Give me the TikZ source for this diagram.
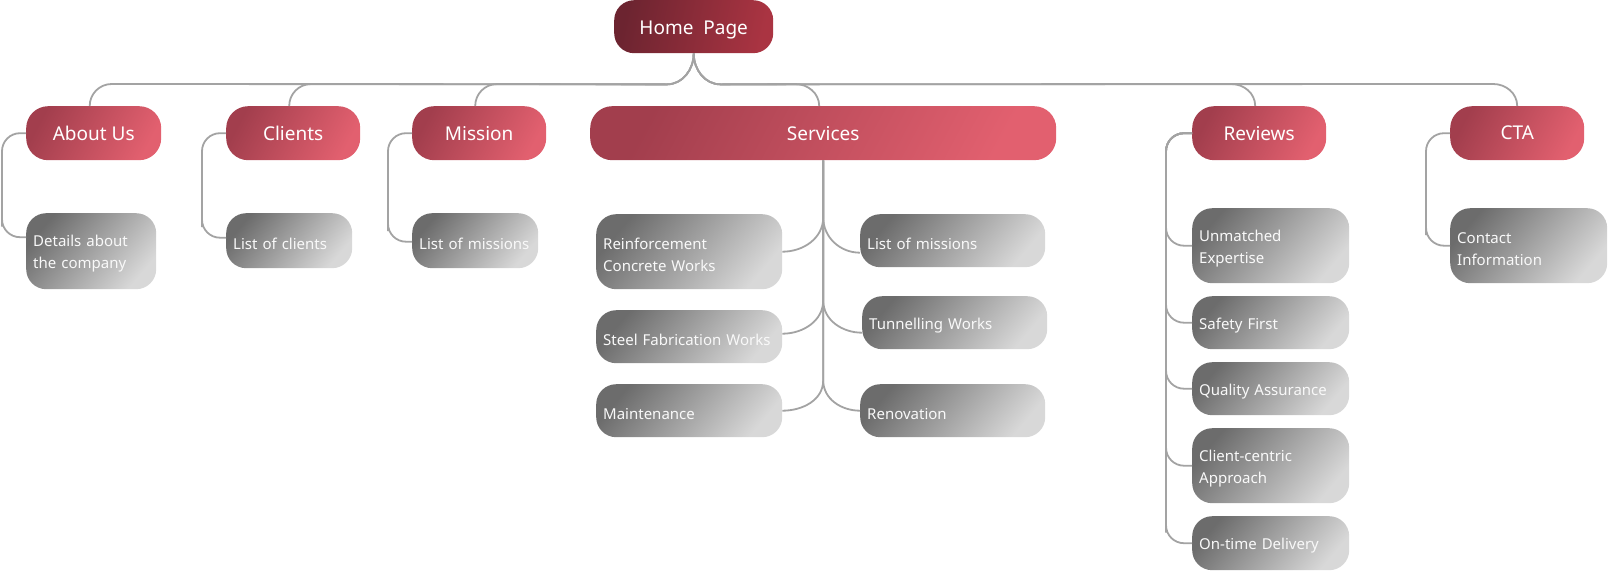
\documentclass[tikz,border=0pt]{standalone}
\usepackage{fontspec}
\setmainfont{Noto Sans}
\usetikzlibrary{calc}
\definecolor{redA}{HTML}{A23E4D}
\definecolor{redB}{HTML}{E2606F}
\definecolor{homeA}{HTML}{6C2430}
\definecolor{homeB}{HTML}{AA3442}
\definecolor{grayA}{HTML}{6C6C6C}
\definecolor{grayB}{HTML}{D8D8D8}
\definecolor{linegray}{HTML}{A3A3A3}
\tikzset{
  conn/.style={draw=linegray, line width=1.8pt},
  box/.style={inner sep=0pt, anchor=north west, shading=axis},
  topbox/.style={box, rounded corners=22pt, text=white,
    font=\fontsize{19}{22}\selectfont,
    top color=redA, bottom color=redB, shading angle=62, minimum height=54pt},
  homebox/.style={box, rounded corners=20pt, text=white,
    font=\fontsize{19}{22}\selectfont, text height=16pt, text depth=0pt,
    top color=homeA, bottom color=homeB, shading angle=78, minimum height=53pt},
  graybox/.style={box, rounded corners=20pt, text=white!95!gray,
    font=\fontsize{15}{22}\selectfont, align=left, inner xsep=7pt,
    execute at begin node={\rule{0pt}{17pt}},
    top color=grayA, bottom color=grayB, shading angle=50},
}
\begin{document}
\begin{tikzpicture}[x=1pt, y=-1pt]
\useasboundingbox (0,0) rectangle (1608,570);

% top level
\node[homebox, minimum width=159pt] (home) at (614,0) {Home\ \ Page};
\node[topbox, minimum width=135pt] (about) at (26,106) {About Us};
\node[topbox, minimum width=134pt] (clients) at (226,106) {Clients};
\node[topbox, minimum width=134pt] (mission) at (412,106) {Mission};
\node[topbox, minimum width=466pt] (services) at (590,106) {Services};
\node[topbox, minimum width=134pt] (reviews) at (1192,106) {Reviews};
\node[topbox, minimum width=134pt] (cta) at (1450,106) {CTA};

% children
\node[graybox, text width=116pt, minimum height=76pt] (det) at (26,213) {Details about\\the company};
\node[graybox, text width=112pt, minimum height=55pt] (lcl) at (226,213) {List of clients};
\node[graybox, text width=112pt, minimum height=55pt] (lmi) at (412,213) {List of missions};

\node[graybox, text width=172pt, minimum height=75pt] (rcw) at (596,214) {Reinforcement\\Concrete Works};
\node[graybox, text width=172pt, minimum height=53pt] (sfw) at (596,310) {Steel Fabrication Works};
\node[graybox, text width=172pt, minimum height=53pt] (mnt) at (596,384) {Maintenance};
\node[graybox, text width=171pt, minimum height=53pt] (lm2) at (860,214) {List of missions};
\node[graybox, text width=171pt, minimum height=53pt] (tun) at (862,296) {Tunnelling Works};
\node[graybox, text width=171pt, minimum height=53pt] (ren) at (860,384) {Renovation};

\node[graybox, text width=143pt, minimum height=75pt] (unm) at (1192,208) {Unmatched\\Expertise};
\node[graybox, text width=143pt, minimum height=53pt] (saf) at (1192,296) {Safety First};
\node[graybox, text width=143pt, minimum height=53pt] (qua) at (1192,362) {Quality Assurance};
\node[graybox, text width=143pt, minimum height=75pt] (cli) at (1192,428) {Client-centric\\Approach};
\node[graybox, text width=143pt, minimum height=54pt] (ont) at (1192,516) {On-time Delivery};

\node[graybox, text width=143pt, minimum height=75pt] (con) at (1450,208) {Contact\\Information};

% home to top level
\foreach \t in {about,clients,mission}{
  \draw[conn] (home.south) to[out=-90,in=0] ($(home.south)+(-27,31)$)
    -- ($(\t.north)+(18,-22)$) to[out=180,in=90] ($(\t.north)+(-4,0)$);
}
\foreach \t/\d in {services/-4,reviews/-4,cta/0}{
  \draw[conn] (home.south) to[out=-90,in=180] ($(home.south)+(27,31)$)
    -- ($(\t.north)+(\d-24,-22)$) to[out=0,in=90] ($(\t.north)+(\d,0)$);
}

% left side child connectors
\draw[conn, rounded corners=18pt] (about.west) -| ($(det.west)+(-24,-14)$) |- ($(det.west)+(0,-14)$);
\draw[conn, rounded corners=18pt] (clients.west) -| ($(lcl.west)+(-24,-3)$) |- ($(lcl.west)+(0,-3)$);
\draw[conn, rounded corners=18pt] (mission.west) -| ($(lmi.west)+(-24,1)$) |- ($(lmi.west)+(0,1)$);
\draw[conn, rounded corners=18pt] (cta.west) -| ($(con.west)+(-24,0)$) |- (con.west);
\foreach \t in {unm,saf,qua,cli,ont}{
  \draw[conn, rounded corners=18pt] (reviews.west) -| ($(\t.west)+(-26,0)$) |- (\t.west);
}

% services tree
\draw[conn] (services.south) -- ++(0,57) to[out=-90,in=0] (rcw.east);
\draw[conn] (services.south) -- ++(0,57) to[out=-90,in=180] ($(lm2.west)+(0,12)$);
\draw[conn] (services.south) -- ++(0,140) to[out=-90,in=0] ($(sfw.east)+(0,-3)$);
\draw[conn] (services.south) -- ++(0,140) to[out=-90,in=180] ($(tun.west)+(0,10)$);
\draw[conn] (services.south) -- ++(0,220) to[out=-90,in=0] (mnt.east);
\draw[conn] (services.south) -- ++(0,220) to[out=-90,in=180] (ren.west);
\end{tikzpicture}
\end{document}
